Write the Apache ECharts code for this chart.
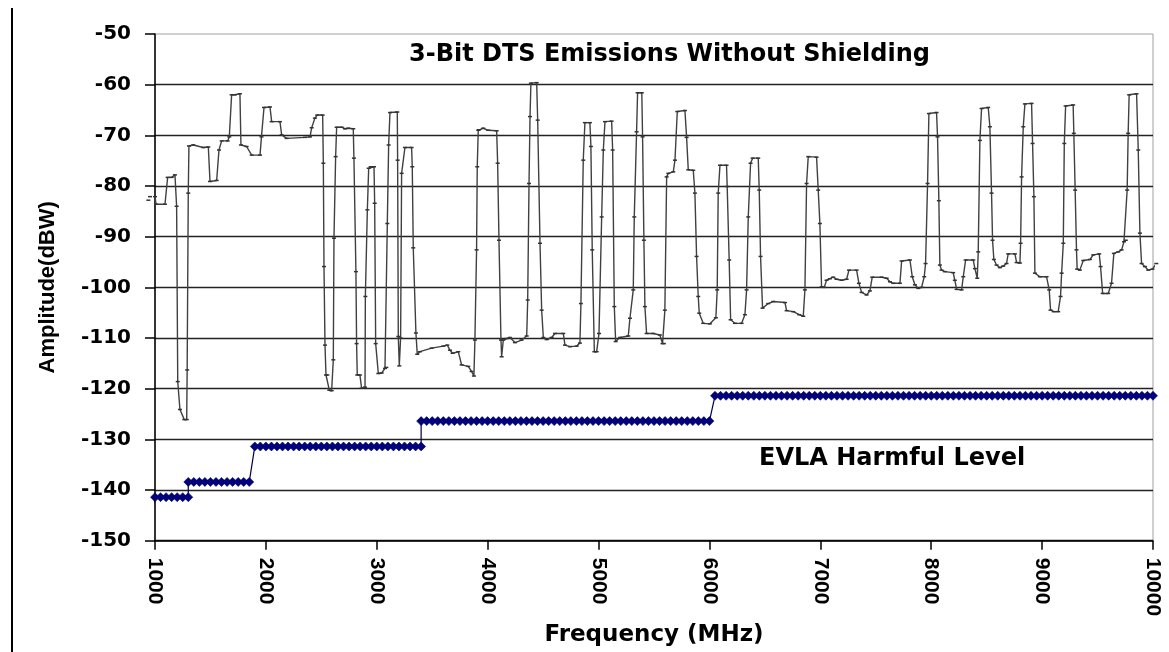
<!DOCTYPE html>
<html>
<head>
<meta charset="utf-8">
<script src="https://cdn.jsdelivr.net/npm/echarts@6/dist/echarts.min.js"></script>
<style>
  html, body { margin: 0; padding: 0; background: #fff; }
  #main { width: 1169px; height: 652px; }
</style>
</head>
<body>
<div id="main"></div>
<script>
// 频率轴刻度 (MHz)
var freqTicks = [1000, 2000, 3000, 4000, 5000, 6000, 7000, 8000, 9000, 10000];
var ampTicks = [-150, -140, -130, -120, -110, -100, -90, -80, -70, -60, -50];

// 3-Bit DTS emissions, [MHz, dBW]
var emissions = [
  [940, -82.8], [955, -82.1], [1000, -82.1], [1009, -83.6], [1090, -83.6], [1114, -78.3],
  [1150, -78.3], [1180, -77.8], [1195, -84], [1205, -118.6], [1225, -124.1], [1264, -126.1],
  [1286, -126.1], [1290, -116.3], [1300, -81.4], [1306, -72.1], [1345, -71.9], [1436, -72.4],
  [1481, -72.3], [1496, -79.1], [1556, -78.9], [1577, -72.9], [1601, -71.1], [1655, -71.1],
  [1670, -70.3], [1691, -62], [1720, -62], [1766, -61.8], [1775, -71.9], [1826, -72.2],
  [1872, -73.9], [1947, -73.9], [1960, -70.3], [1983, -64.5], [2037, -64.4], [2052, -67.3],
  [2127, -67.3], [2142, -69.9], [2187, -70.6], [2352, -70.4], [2398, -70.3], [2413, -68.5],
  [2442, -66.6], [2463, -66], [2512, -66], [2518, -75.5], [2524, -95.9], [2533, -111.4],
  [2542, -117.3], [2554, -117.3], [2572, -120.3], [2593, -120.4], [2608, -114.3], [2614, -90.3],
  [2629, -74.2], [2638, -68.4], [2683, -68.4], [2713, -68.7], [2743, -68.6], [2788, -68.7],
  [2794, -74.5], [2812, -96.9], [2818, -111.1], [2824, -117.3], [2848, -117.3], [2863, -119.9],
  [2894, -119.7], [2897, -101.8], [2915, -84.7], [2927, -76.5], [2945, -76.2], [2975, -76.2],
  [2981, -83.4], [2990, -111.1], [3014, -117], [3044, -116.9], [3074, -116], [3086, -115.8],
  [3095, -87.4], [3107, -71.9], [3119, -65.5], [3185, -65.4], [3188, -74.9], [3194, -109.7],
  [3203, -115.5], [3215, -110], [3224, -77.5], [3254, -72.4], [3314, -72.4], [3320, -76.2],
  [3329, -92.2], [3353, -109], [3365, -113.2], [3389, -112.7], [3495, -112], [3600, -111.6],
  [3636, -111.4], [3660, -112.4], [3684, -113], [3735, -112.7], [3765, -115.3], [3825, -115.6],
  [3855, -116.6], [3876, -117.5], [3885, -110.4], [3900, -92.6], [3906, -76.2], [3915, -69],
  [3921, -68.9], [3960, -68.6], [4005, -69], [4081, -69.1], [4090, -75.5], [4102, -90.7],
  [4120, -110.4], [4126, -113.7], [4141, -110.4], [4171, -110.1], [4201, -109.9], [4246, -110.9],
  [4306, -110.4], [4352, -109.6], [4361, -102.5], [4373, -79.5], [4382, -66.3], [4390, -59.7],
  [4442, -59.6], [4451, -67], [4472, -91.3], [4487, -104.5], [4502, -109.9], [4532, -110.3],
  [4577, -109.9], [4607, -109.1], [4682, -109.1], [4697, -111.4], [4742, -111.7], [4802, -111.6],
  [4832, -111], [4841, -103.2], [4862, -74.9], [4877, -67.5], [4922, -67.5], [4931, -72.2],
  [4943, -92.6], [4962, -112.7], [4983, -112.7], [5004, -109.1], [5028, -86.1], [5043, -72.9],
  [5058, -67.3], [5118, -67.2], [5127, -72.9], [5142, -103.8], [5154, -110.7], [5193, -109.9],
  [5268, -109.6], [5283, -106.1], [5313, -100.5], [5322, -86.1], [5343, -69.3], [5352, -61.6],
  [5390, -61.6], [5397, -70.3], [5409, -90.7], [5418, -103.8], [5433, -109.1], [5493, -109.1],
  [5553, -109.4], [5577, -111.1], [5589, -111.1], [5598, -104.5], [5614, -78.2], [5629, -77.5],
  [5674, -77.2], [5689, -74.9], [5710, -65.3], [5779, -65.1], [5794, -70.4], [5809, -76.8],
  [5854, -76.9], [5869, -81.4], [5884, -93.9], [5899, -101.8], [5908, -105.1], [5944, -107.1],
  [6004, -107.2], [6058, -106], [6070, -100.5], [6079, -81.4], [6095, -75.9], [6154, -75.9],
  [6160, -80.1], [6178, -94.6], [6191, -106.4], [6230, -107.1], [6290, -107.1], [6320, -105.4],
  [6335, -100.5], [6350, -86.1], [6371, -75.5], [6389, -74.5], [6440, -74.5], [6449, -80.8],
  [6461, -93.9], [6479, -104.1], [6530, -103.2], [6575, -102.8], [6681, -103], [6696, -104.6],
  [6756, -104.8], [6810, -105.4], [6846, -105.7], [6861, -100.5], [6876, -79.5], [6891, -74.2],
  [6966, -74.3], [6981, -80.8], [6996, -87.4], [7011, -99.9], [7035, -100], [7056, -98.6],
  [7086, -98.3], [7116, -98], [7146, -98.4], [7192, -98.6], [7237, -98.4], [7258, -96.6],
  [7327, -96.6], [7348, -99.2], [7372, -101], [7417, -101.5], [7447, -100.7], [7468, -98],
  [7553, -98], [7598, -98.2], [7628, -98.9], [7658, -99.2], [7718, -99.2], [7733, -94.8],
  [7808, -94.6], [7829, -97.9], [7853, -99.5], [7883, -100.2], [7913, -100], [7937, -97.9],
  [7949, -95.3], [7967, -79.5], [7979, -65.7], [8048, -65.5], [8057, -70.3], [8069, -82.9],
  [8078, -95.6], [8093, -96.6], [8123, -96.9], [8198, -97.1], [8213, -98.6], [8229, -100.4],
  [8274, -100.5], [8289, -97.9], [8310, -94.6], [8379, -94.6], [8394, -96.3], [8415, -98.2],
  [8424, -93], [8439, -71], [8454, -64.7], [8514, -64.5], [8529, -68.3], [8544, -81.4],
  [8553, -90.7], [8565, -94.5], [8589, -95.6], [8619, -96.1], [8649, -95.8], [8679, -95.3],
  [8694, -93.4], [8755, -93.4], [8770, -95.1], [8800, -95.2], [8806, -91.3], [8815, -78.2],
  [8830, -68.3], [8845, -63.8], [8905, -63.7], [8914, -71.6], [8926, -82.1], [8935, -97.2],
  [8980, -97.9], [9040, -97.9], [9064, -100.5], [9076, -104.5], [9106, -104.8], [9145, -104.8],
  [9166, -101.8], [9176, -97.2], [9191, -91.3], [9200, -71.6], [9212, -64.2], [9280, -64],
  [9286, -69.6], [9298, -80.8], [9310, -92.6], [9316, -96.4], [9340, -96.6], [9371, -94.7],
  [9431, -94.5], [9461, -93.6], [9515, -93.4], [9527, -95.9], [9546, -101.2], [9596, -101.2],
  [9626, -99.2], [9647, -93.3], [9686, -93], [9717, -92.6], [9738, -91], [9755, -90.7],
  [9767, -80.8], [9776, -69.6], [9785, -62], [9852, -61.8], [9867, -72.9], [9882, -89.3],
  [9897, -95.3], [9927, -95.9], [9957, -96.6], [9995, -96.4], [10030, -95.3]
];

// EVLA harmful level: [from MHz, to MHz, dBW], one marker every 50 MHz
var harmfulBands = [
  [1000, 1300, -141.4],
  [1300, 1850, -138.4],
  [1900, 3400, -131.4],
  [3400, 6000, -126.4],
  [6050, 10000, -121.4]
];
var harmfulStart = [950, -146.5];

var harmful = [{ value: harmfulStart, symbol: 'none' }];
harmfulBands.forEach(function (b) {
  for (var f = b[0]; f <= b[1]; f += 50) {
    harmful.push([f, b[2]]);
  }
});

var myChart = echarts.init(document.getElementById('main'));

var labelFont = 'DejaVu Sans';
var option = {
  animation: false,
  backgroundColor: '#fff',
  grid: {
    left: 155, right: 16, top: 34, bottom: 111,
    show: true, borderColor: '#a0a0a0', borderWidth: 1
  },
  xAxis: {
    type: 'value',
    min: 1000, max: 10000, interval: 1000,
    name: 'Frequency (MHz)',
    nameLocation: 'middle',
    nameGap: 82,
    nameTextStyle: { fontFamily: labelFont, fontWeight: 'bold', fontSize: 23, color: '#000' },
    axisLine: { show: true, lineStyle: { color: '#000', width: 1.5 } },
    axisTick: { show: true, length: 9, lineStyle: { color: '#000', width: 1.5 } },
    axisLabel: {
      rotate: -90, margin: 17,
      fontFamily: 'Liberation Sans', fontWeight: 'bold', fontSize: 21, color: '#000',
      formatter: function (v) { return freqTicks.indexOf(v) >= 0 ? String(v) : ''; }
    },
    splitLine: { show: false }
  },
  yAxis: {
    type: 'value',
    min: ampTicks[0], max: ampTicks[ampTicks.length - 1], interval: 10,
    name: 'Amplitude(dBW)',
    nameLocation: 'middle',
    nameGap: 96,
    nameTextStyle: { fontFamily: 'Liberation Sans', fontWeight: 'bold', fontSize: 22, color: '#000' },
    axisLine: { show: true, lineStyle: { color: '#000', width: 1.5 } },
    axisTick: { show: true, length: 10, lineStyle: { color: '#000', width: 1.5 } },
    axisLabel: {
      margin: 24,
      fontFamily: labelFont, fontWeight: 'bold', fontSize: 20, color: '#000'
    },
    splitLine: { show: true, showMaxLine: false, lineStyle: { color: '#222', width: 1.3 } }
  },
  graphic: [
    {
      type: 'line', silent: true,
      shape: { x1: 12, y1: 8, x2: 12, y2: 652 },
      style: { stroke: '#000', lineWidth: 2 }
    },
    {
      type: 'text', left: 409, top: 43, silent: true,
      style: {
        text: '3-Bit DTS Emissions Without Shielding',
        font: 'bold 24px "DejaVu Sans"', fill: '#000'
      }
    },
    {
      type: 'text', left: 759, top: 447, silent: true,
      style: {
        text: 'EVLA Harmful Level',
        font: 'bold 24px "DejaVu Sans"', fill: '#000'
      }
    }
  ],
  series: [
    {
      name: '3-Bit DTS Emissions',
      type: 'line',
      data: emissions,
      clip: false,
      symbol: 'rect',
      symbolSize: [4, 1.5],
      itemStyle: { color: '#333' },
      lineStyle: { color: '#404040', width: 1.4 },
      z: 3
    },
    {
      name: 'EVLA Harmful Level',
      type: 'line',
      data: harmful,
      clip: false,
      symbol: 'diamond',
      symbolSize: [9, 9],
      itemStyle: { color: '#000080', borderColor: '#000050', borderWidth: 0.6 },
      lineStyle: { color: '#000040', width: 1.2 },
      z: 4
    }
  ]
};

myChart.setOption(option);
</script>
</body>
</html>
